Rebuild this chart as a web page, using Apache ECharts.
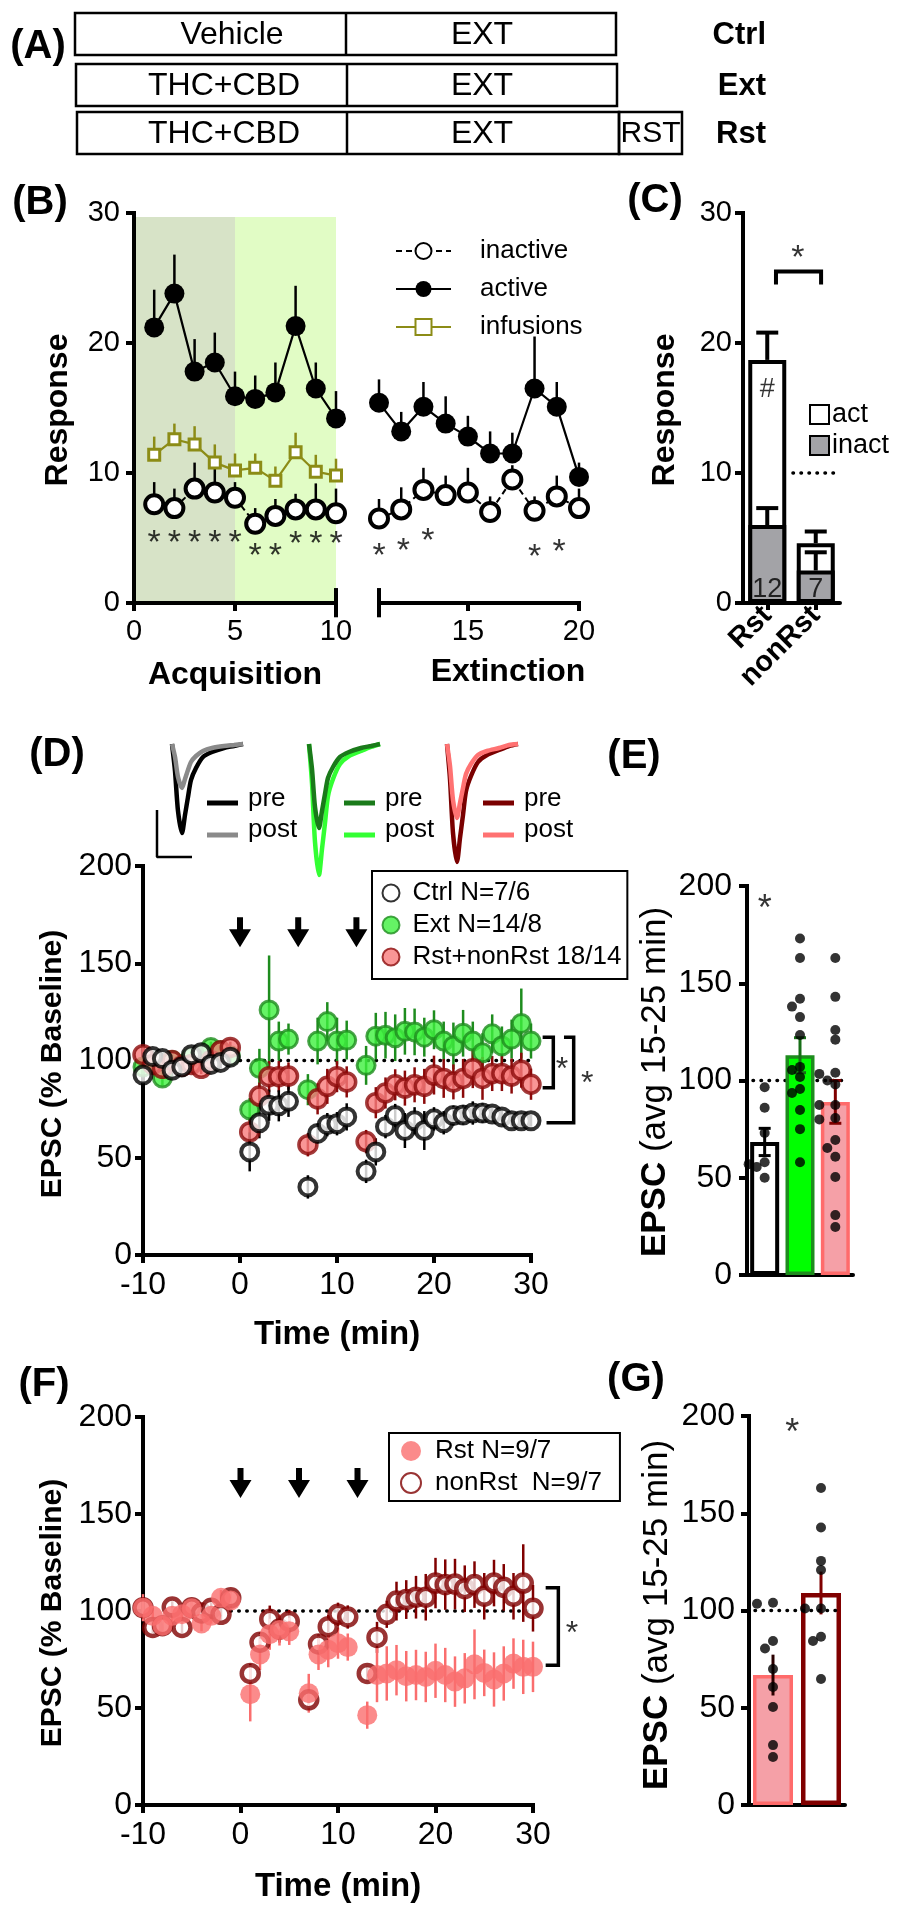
<!DOCTYPE html>
<html>
<head>
<meta charset="utf-8">
<script src="https://cdn.jsdelivr.net/npm/echarts@6.0.0/dist/echarts.min.js"></script>
<style>html,body{margin:0;padding:0;background:#fff;}#chart{width:900px;height:1920px;}</style>
</head>
<body>
<div id="chart"></div>
<script>
// ================= DATA =================
// Panel A (schematic)
const schemeRows = [
  {cells: ['Vehicle', 'EXT'], group: 'Ctrl'},
  {cells: ['THC+CBD', 'EXT'], group: 'Ext'},
  {cells: ['THC+CBD', 'EXT', 'RST'], group: 'Rst'}
];

// Panel B
const sessAcq = [1, 2, 3, 4, 5, 6, 7, 8, 9, 10];
const sessExt = [11, 12, 13, 14, 15, 16, 17, 18, 19, 20];
const activeAcq = [21.2, 23.8, 17.8, 18.5, 15.9, 15.7, 16.2, 21.3, 16.5, 14.2];
const activeAcqErr = [2.9, 3.0, 2.5, 2.3, 1.9, 1.8, 2.3, 3.1, 2.0, 2.1];
const inactiveAcq = [7.6, 7.3, 8.8, 8.5, 8.1, 6.1, 6.7, 7.2, 7.2, 6.9];
const inactiveAcqErr = [1.7, 1.5, 2.0, 2.0, 1.2, 1.2, 1.3, 1.2, 2.0, 1.9];
const infusionsAcq = [11.4, 12.6, 12.2, 10.8, 10.2, 10.4, 9.4, 11.6, 10.1, 9.8];
const infusionsAcqErr = [1.4, 1.2, 1.4, 1.4, 1.3, 1.1, 1.1, 1.5, 1.3, 1.3];
const activeExt = [15.4, 13.2, 15.1, 13.8, 12.8, 11.5, 11.5, 16.5, 15.1, 9.7];
const activeExtErr = [1.8, 1.5, 1.9, 2.1, 1.6, 1.7, 1.6, 4.0, 1.9, 1.1];
const inactiveExt = [6.5, 7.2, 8.7, 8.3, 8.5, 7.0, 9.5, 7.1, 8.2, 7.3];
const inactiveExtErr = [1.5, 1.7, 1.7, 1.5, 1.9, 1.2, 1.1, 1.1, 1.6, 1.5];
const starsAcq = [[1, 5.2], [2, 5.2], [3, 5.2], [4, 5.2], [5, 5.2], [6, 4.15], [7, 4.15], [8, 5.1], [9, 5.1], [10, 5.1]];
const starsExt = [[11, 4.2], [12.1, 4.6], [13.2, 5.3], [18, 4.1], [19.1, 4.5]];
const shadePhases = [[0, 5], [5, 10]];
const shadeTop = 29.7;

// Panel C
const cCats = ['Rst', 'nonRst'];
const cAct = [18.7, 4.6];
const cActErr = [2.1, 0.9];
const cInact = [6.0, 2.5];
const cInactErr = [1.3, 1.4];
const cN = ['12', '7'];

// Panel D / F time axis (min)
const timePts = [-10, -9, -8, -7, -6, -5, -4, -3, -2, -1, 1, 2, 3, 4, 5, 7, 8, 9, 10, 11,
  13, 14, 15, 16, 17, 18, 19, 20, 21, 22, 23, 24, 25, 26, 27, 28, 29, 30];
const arrowTimes = [0, 6, 12];
const arrowLevel = 166;

// Panel D
const ctrlD = [92.5, 102, 101, 95, 96.7, 103, 104, 98, 99, 101.7, 53, 68, 77, 76.7, 79, 35, 62.5, 67, 67.5, 71,
  43, 53, 66, 71.7, 64, 69, 64, 70, 68, 71.7, 72, 73, 73, 72.5, 71, 69, 69, 69];
const ctrlDErr = [4, 3, 3, 4, 3, 3, 3, 3, 3, 3, 10, 8, 8, 8, 8, 6, 5, 6, 6, 7,
  6, 7, 6, 6, 9, 7, 10, 6, 6, 5, 5, 6, 5, 4, 4, 4, 4, 3];
const extD = [96.7, 98, 91, 100, 98, 101.7, 103, 106.7, 105, 102.5, 74.7, 96, 126, 110, 111, 85, 110, 120, 110, 110.5,
  97.5, 112.5, 113, 111.7, 115, 114.7, 112, 115.8, 110, 107.5, 114, 110, 104, 113.7, 107.5, 111, 119, 110];
const extDErr = [3, 3, 4, 3, 3, 3, 3, 3, 3, 3, 6, 10, 28, 10, 8, 8, 12, 10, 12, 10,
  10, 12, 12, 12, 12, 12, 10, 10, 10, 12, 12, 10, 10, 10, 10, 10, 18, 9];
const rstD = [103, 98, 96, 100, 97, 98, 96, 100, 105, 106.7, 63.3, 81.7, 91.7, 91.7, 92, 56.7, 80.3, 86.7, 91.7, 89,
  58.3, 78.3, 83.3, 87.5, 85.8, 87.5, 86.7, 92.5, 90.8, 89, 90.8, 95.8, 90.8, 93.3, 93.3, 92, 95, 87.8];
const rstDErr = [4, 3, 3, 3, 3, 3, 3, 3, 3, 3, 7, 7, 8, 8, 7, 6, 8, 9, 8, 8,
  6, 8, 8, 8, 9, 9, 9, 10, 10, 9, 10, 10, 11, 9, 9, 9, 9, 8];
const bracketDInner = [[31.2, 112], [32.3, 112], [32.3, 86], [31.2, 86]];
const bracketDOuter = [[33.4, 112], [34.4, 112], [34.4, 68], [31.6, 68]];
const starsD = [[33.2, 98.7], [35.8, 91.5]];

// Panel D inset EPSC traces (time units, amplitude units)
const traceT = [0, 3, 6, 10, 13, 16, 19, 24, 31, 40, 52, 62, 71];
const traceCtrlPre = [0, -27, -67, -89, -71, -53, -36, -24, -13, -8, -4, -2, 0];
const traceCtrlPost = [0, -13, -33, -44, -35, -26, -18, -12, -7, -4, -2, -1, 0];
const traceExtPre = [0, -25, -63, -84, -67, -50, -34, -23, -13, -8, -4, -2, 0];
const traceExtPost = [0, -39, -98, -131, -105, -79, -52, -35, -20, -12, -7, -3, 0];
const traceRstPre = [0, -35, -89, -118, -94, -71, -47, -32, -18, -11, -6, -2, 0];
const traceRstPost = [0, -22, -56, -74, -59, -44, -30, -20, -11, -7, -4, -1, 0];
const scaleBar = [[-15, -66], [-15, -113], [20, -113]];

// Panel E
const eGroups = ['Ctrl', 'Ext', 'Rst+nonRst'];
const eMeans = [68.4, 113, 89];
const eErr = [7, 9, 11];
const eCtrlPts = [96.5, 86, 73, 58, 57, 55.5, 50];
const eExtPts = [173, 163, 142, 138, 132.6, 123.4, 107, 105.4, 101.8, 95.6, 93.6, 84.8, 75, 58];
const eRstPts = [163, 143, 126, 121, 104, 103.4, 100, 98, 87.4, 87.4, 80.7, 80, 69.4, 65.3, 60.8, 50.4, 30.8, 24.7];
const eStar = [[0, 191.5]];

// Panel F
const rstF = [101.7, 97.5, 92.4, 97.5, 98.3, 101.4, 93.6, 97.5, 106.8, 105.4, 57.1, 77.6, 88, 90.2, 89.5, 57.6, 77.6, 80, 83.4, 81.4,
  46.3, 67, 67.8, 69.5, 66.4, 67, 66, 69.2, 67, 63.6, 65.3, 72.5, 68.1, 64.7, 67.8, 72.9, 71.2, 71.2];
const rstFErr = [7, 4, 4, 4, 4, 4, 4, 4, 4, 4, 14, 8, 8, 8, 7, 10, 8, 9, 8, 7,
  7, 14, 14, 13, 13, 13, 13, 14, 14, 13, 13, 18, 12, 14, 14, 13, 14, 13];
const nonRstF = [101.7, 91.5, 92.4, 102, 91.5, 101.7, 99, 101.4, 98.3, 106.8, 67.8, 83.9, 95.8, 90.7, 94.6, 54.2, 83, 91.9, 98.3, 96.9,
  67.8, 86.4, 98.3, 105.1, 105.9, 107.1, 107.1, 114.4, 113.6, 113.9, 111.5, 113.6, 107.6, 114.4, 112.2, 107.6, 114.4, 101.4];
const nonRstFErr = [3, 3, 3, 3, 3, 3, 3, 3, 3, 3, 5, 5, 7, 7, 6, 4, 5, 6, 6, 6,
  4, 8, 7, 10, 10, 11, 12, 13, 13, 13, 12, 12, 12, 12, 12, 12, 20, 12];
const bracketF = [[31.3, 112], [32.6, 112], [32.6, 72], [31.3, 72]];
const starsF = [[34.0, 91.8]];

// Panel G
const gGroups = ['Rst', 'nonRst'];
const gMeans = [66.8, 109];
const gErr = [10.5, 11];
const gRstPts = [104, 103.5, 84.3, 80.5, 69.9, 60.7, 50.4, 30.8, 24.7];
const gNonRstPts = [163, 142.7, 125.5, 120.8, 101, 101, 86.5, 84.3, 64.8];
const gStar = [[0.4, 194.9]];

// Tick values
const bTicks2 = [11, 15, 20];
const bLabels2 = [15, 20];

// ================= STYLE / LAYOUT =================
const FF = '"Liberation Sans", Arial, Helvetica, sans-serif';
const AXW = 4;
const OLIVE = '#8c8c16';
const SHADE = ['#d7e3c7', '#e1fcc5'];
const GREEN_FILL = '#3ef03e', GREEN_EDGE = '#1e8c1e';
const RED_FILL = '#f77c7c', RED_EDGE = '#8b0a0a';
const PINK_BAR = '#f5a0a7', PINK_EDGE = '#ff6b6b';
const RST_F = '#fa6e6e', DARKRED = '#800000';

const L = {
  B1: {left: 134, top: 213, width: 202, height: 390},
  B2: {left: 379, top: 213, width: 200, height: 390},
  C:  {left: 743, top: 213, width: 97, height: 390},
  D:  {left: 143, top: 866, width: 388, height: 389},
  E:  {left: 747, top: 886, width: 106, height: 389},
  F:  {left: 143, top: 1417, width: 390, height: 388},
  G:  {left: 749, top: 1416, width: 96, height: 389},
  TK: {left: 157, top: 744, width: 86, height: 135},
  TG: {left: 309, top: 744, width: 71, height: 135},
  TR: {left: 447, top: 744, width: 71, height: 135}
};
const gridOrder = ['B1', 'B2', 'C', 'D', 'E', 'F', 'G', 'TK', 'TG', 'TR'];
const grids = gridOrder.map(k => Object.assign({containLabel: false, outerBoundsMode: 'none', show: false}, L[k]));

function vAxis(gi, min, max, interval, fs, margin, extra) {
  const a = {
    type: 'value', gridIndex: gi, min: min, max: max, interval: interval,
    axisLine: {show: true, onZero: false, lineStyle: {color: '#000', width: AXW, cap: 'square'}},
    axisTick: {show: true, inside: false, length: 8, lineStyle: {color: '#000', width: AXW}},
    axisLabel: {show: true, color: '#000', fontSize: fs, fontFamily: FF, margin: margin, showMinLabel: true, showMaxLabel: true},
    splitLine: {show: false}, splitArea: {show: false}
  };
  if (extra) {
    if (extra.tick) Object.assign(a.axisTick, extra.tick);
    if (extra.label) Object.assign(a.axisLabel, extra.label);
  }
  return a;
}
function hAxis(gi, min, max) {
  return {type: 'value', gridIndex: gi, min: min, max: max, show: false,
    axisLine: {show: false}, axisTick: {show: false}, axisLabel: {show: false}, splitLine: {show: false}};
}
function catAxis(gi, data, opts) {
  return Object.assign({
    type: 'category', gridIndex: gi, data: data,
    axisLine: {show: true, onZero: false, lineStyle: {color: '#000', width: AXW}},
    axisTick: {show: false},
    axisLabel: {show: false},
    splitLine: {show: false}
  }, opts || {});
}

const xAxes = [
  vAxis(0, 0, 10, 5, 29, 14),                                   // 0 B1
  vAxis(1, 11, 20, 5, 29, 14, {tick: {customValues: bTicks2}, label: {customValues: bLabels2}}), // 1 B2
  catAxis(2, cCats, {axisTick: {show: true, alignWithLabel: true, length: 7, lineStyle: {color: '#000', width: AXW}},
    axisLabel: {show: true, rotate: 45, interval: 0, color: '#000', fontSize: 29, fontWeight: 'bold', fontFamily: FF, margin: 8}}), // 2 C
  hAxis(2, -0.5, 1.5),                                          // 3 C overlay
  vAxis(3, -10, 30, 10, 32, 14),                                // 4 D
  catAxis(4, eGroups),                                          // 5 E
  hAxis(4, -0.5, 2.5),                                          // 6 E overlay
  vAxis(5, -10, 30, 10, 32, 14),                                // 7 F
  catAxis(6, gGroups),                                          // 8 G
  hAxis(6, -0.5, 1.5),                                          // 9 G overlay
  hAxis(7, -15, 71),                                            // 10 trace K
  hAxis(8, 0, 71),                                              // 11 trace G
  hAxis(9, 0, 71)                                               // 12 trace R
];
const yAxes = [
  vAxis(0, 0, 30, 10, 29, 14),   // 0 B1
  hAxis(1, 0, 30),               // 1 B2
  vAxis(2, 0, 30, 10, 29, 11),   // 2 C
  vAxis(3, 0, 200, 50, 32, 11),  // 3 D
  vAxis(4, 0, 200, 50, 32, 15),  // 4 E
  vAxis(5, 0, 200, 50, 32, 11),  // 5 F
  vAxis(6, 0, 200, 50, 32, 14),  // 6 G
  hAxis(7, -135, 0), hAxis(8, -135, 0), hAxis(9, -135, 0)
];

// ---------- helpers ----------
function errSeries(xi, yi, xs, ys, es, color, width, opts) {
  opts = opts || {};
  const up = opts.up !== false, down = opts.down !== false, cap = opts.cap || 0;
  return {
    type: 'custom', xAxisIndex: xi, yAxisIndex: yi, silent: true, z: opts.z == null ? 2 : opts.z,
    data: xs.map((x, i) => [x, ys[i], es[i]]),
    encode: {x: 0, y: 1},
    renderItem: function (params, api) {
      const x = api.value(0), y = api.value(1), e = api.value(2);
      const c = api.coord([x, y]);
      const t = api.coord([x, y + (up ? e : 0)]);
      const b = api.coord([x, y - (down ? e : 0)]);
      const st = {stroke: color, lineWidth: width};
      const ch = [{type: 'line', shape: {x1: c[0], y1: t[1], x2: c[0], y2: b[1]}, style: st}];
      if (cap) {
        if (up) ch.push({type: 'line', shape: {x1: c[0] - cap / 2, y1: t[1], x2: c[0] + cap / 2, y2: t[1]}, style: st});
        if (down) ch.push({type: 'line', shape: {x1: c[0] - cap / 2, y1: b[1], x2: c[0] + cap / 2, y2: b[1]}, style: st});
      }
      return {type: 'group', children: ch};
    }
  };
}
function textSer(xi, yi, pts, size, opt) {
  opt = opt || {};
  return {
    type: 'scatter', xAxisIndex: xi, yAxisIndex: yi, silent: true, clip: false, z: opt.z || 10,
    symbol: 'circle', symbolSize: 1, itemStyle: {color: 'rgba(0,0,0,0)'},
    data: pts.map(p => ({name: p[2], value: [p[0], p[1]]})),
    label: {show: true, position: 'inside', formatter: '{b}', color: opt.color || '#000', fontSize: size,
      fontFamily: FF, fontWeight: opt.bold ? 'bold' : 'normal', offset: opt.offset || [0, 0]},
    emphasis: {disabled: true}
  };
}
function star(pts) { return pts.map(p => [p[0], p[1], '*']); }
function lineSer(xi, yi, data, color, width, opt) {
  opt = opt || {};
  return {type: 'line', xAxisIndex: xi, yAxisIndex: yi, data: data, symbol: 'none', silent: true, clip: false,
    z: opt.z == null ? 5 : opt.z, smooth: opt.smooth || false,
    lineStyle: Object.assign({color: color, width: width}, opt.line || {}), emphasis: {disabled: true}};
}
// polyline drawn through the axes' scales (works outside the plotted range too)
function polySer(xi, yi, pts, color, width) {
  return {type: 'custom', xAxisIndex: xi, yAxisIndex: yi, silent: true, z: 5, clip: false,
    data: [[pts[0][0], pts[0][1]]], encode: {x: 0, y: 1},
    renderItem: function (params, api) {
      return {type: 'polyline', shape: {points: pts.map(p => api.coord(p))},
        style: {stroke: color, lineWidth: width, fill: null, lineJoin: 'miter'}};
    }};
}
// stimulation arrows: drawn at data coords via the axes' scales
function arrowSer(xi, yi, times, level) {
  return {type: 'custom', xAxisIndex: xi, yAxisIndex: yi, silent: true, z: 5, clip: false,
    data: times.map(t => [t, level]), encode: {x: 0, y: 1},
    renderItem: function (params, api) {
      const c = api.coord([api.value(0), api.value(1)]);
      const x = c[0], y = c[1];
      // shaft 6px wide, head 22px wide; total height 30px centred at (x,y)
      const pts = [[x - 3, y - 15], [x + 3, y - 15], [x + 3, y - 3], [x + 11, y - 3], [x, y + 15],
        [x - 11, y - 3], [x - 3, y - 3]];
      return {type: 'polygon', shape: {points: pts}, style: {fill: '#000'}};
    }};
}
function dotted(xi, yi, data, z) {
  return lineSer(xi, yi, data, '#000', 3.5, {z: z, line: {type: [0.5, 7.5], cap: 'round'}});
}
function zip(xs, ys) { return xs.map((x, i) => [x, ys[i]]); }
// simple beeswarm: horizontal offsets (in category units) so dots do not overlap much
function swarm(vals, pxPerUnit, catPx, dotPx) {
  const placed = [], out = [];
  vals.forEach(v => {
    const y = v * pxPerUnit;
    const cands = [0, -1, 1, -2, 2, -3, 3];
    for (let k = 0; k < cands.length; k++) {
      const off = cands[k] * dotPx * 0.8;
      if (placed.every(p => Math.hypot(p.y - y, p.off - off) >= dotPx * 0.85) || k === cands.length - 1) {
        placed.push({y: y, off: off}); out.push(off / catPx); break;
      }
    }
  });
  return out;
}
function dotSeries(xi, yi, catIdx, vals, grid, nCat) {
  const ppu = grid.height / 200, catPx = grid.width / nCat;
  const offs = swarm(vals, ppu, catPx, 10);
  return {type: 'scatter', xAxisIndex: xi, yAxisIndex: yi, symbol: 'circle', symbolSize: 10, silent: true, z: 4,
    itemStyle: {color: '#000'}, data: vals.map((v, i) => [catIdx + offs[i], v]), emphasis: {disabled: true}};
}

const starOff = [0, 7];

// ================= SERIES =================
const series = [];
// ---- Panel B ----
series.push({
  type: 'custom', xAxisIndex: 0, yAxisIndex: 0, z: 0, silent: true,
  data: shadePhases.map((p, i) => [p[0], p[1], shadeTop, i]), encode: {x: [0, 1], y: 2},
  renderItem: function (params, api) {
    const a = api.coord([api.value(0), api.value(2)]);
    const b = api.coord([api.value(1), 0]);
    return {type: 'rect', shape: {x: a[0], y: a[1], width: b[0] - a[0], height: b[1] - a[1]}, style: {fill: SHADE[api.value(3)]}};
  }
});
series.push(errSeries(0, 0, sessAcq, infusionsAcq, infusionsAcqErr, OLIVE, 2.5, {down: false, z: 2}));
series.push(errSeries(0, 0, sessAcq, inactiveAcq, inactiveAcqErr, '#000', 2.5, {down: false, z: 2}));
series.push(errSeries(0, 0, sessAcq, activeAcq, activeAcqErr, '#000', 2.5, {down: false, z: 2}));
series.push(errSeries(1, 1, sessExt, inactiveExt, inactiveExtErr, '#000', 2.5, {down: false, z: 2}));
series.push(errSeries(1, 1, sessExt, activeExt, activeExtErr, '#000', 2.5, {down: false, z: 2}));
const inactStyle = {symbol: 'circle', symbolSize: 18, itemStyle: {color: '#fff', borderColor: '#000', borderWidth: 4},
  lineStyle: {color: '#000', width: 2, type: [6, 4]}};
const actStyle = {symbol: 'circle', symbolSize: 20, itemStyle: {color: '#000', borderColor: '#000', borderWidth: 0},
  lineStyle: {color: '#000', width: 2.2}};
const infStyle = {symbol: 'rect', symbolSize: 11, itemStyle: {color: '#fff', borderColor: OLIVE, borderWidth: 3},
  lineStyle: {color: OLIVE, width: 2.2}};
function bLine(name, xi, yi, xs, ys, st, z) {
  return Object.assign({type: 'line', name: name, xAxisIndex: xi, yAxisIndex: yi, data: zip(xs, ys), z: z,
    showSymbol: true, showAllSymbol: true, silent: true, emphasis: {disabled: true}}, JSON.parse(JSON.stringify(st)));
}
series.push(bLine('infusions', 0, 0, sessAcq, infusionsAcq, infStyle, 3));
series.push(bLine('inactive', 0, 0, sessAcq, inactiveAcq, inactStyle, 4));
series.push(bLine('active', 0, 0, sessAcq, activeAcq, actStyle, 4));
series.push(bLine('inactive', 1, 1, sessExt, inactiveExt, inactStyle, 4));
series.push(bLine('active', 1, 1, sessExt, activeExt, actStyle, 4));
series.push(textSer(0, 0, star(starsAcq), 34, {offset: [0, 8]}));
series.push(textSer(1, 1, star(starsExt), 34, {offset: [0, 8]}));
// axis-break end marks
series.push(lineSer(0, 0, [[10, -1.1], [10, 1.15]], '#000', AXW, {z: 6}));
series.push(lineSer(1, 1, [[11, -1.1], [11, 1.15]], '#000', AXW, {z: 6}));

// ---- Panel C ----
series.push({type: 'bar', name: 'act', xAxisIndex: 2, yAxisIndex: 2, data: cAct, barWidth: 38, z: 2, silent: true,
  itemStyle: {color: '#fff', borderColor: '#000', borderWidth: 4}, emphasis: {disabled: true}});
series.push({type: 'bar', name: 'inact', xAxisIndex: 2, yAxisIndex: 2, data: cInact, barWidth: 38, barGap: '-100%', z: 2, silent: true,
  itemStyle: {color: '#a3a3a7', borderColor: '#000', borderWidth: 4}, emphasis: {disabled: true}});
series.push(errSeries(2, 2, [0, 1], cAct, cActErr, '#000', 4, {down: false, cap: 22, z: 3}));
series.push(errSeries(2, 2, [0, 1], cInact, cInactErr, '#000', 4, {down: false, cap: 22, z: 3}));
series.push(dotted(3, 2, [[0.53, 10], [1.44, 10]], 3));
series.push(polySer(3, 2, [[0.18, 24.5], [0.18, 25.5], [1.11, 25.5], [1.11, 24.5]], '#000', 4));
series.push(textSer(3, 2, star([[0.63, 27.1]]), 34, {offset: [0, 8]}));
series.push(textSer(3, 2, [[0, 16.4, '#'], [0, 1.0, cN[0]], [1, 1.0, cN[1]]], 27));

// ---- Panel D ----
series.push(dotted(4, 3, [[0, 100], [30, 100]], 1));
series.push(errSeries(4, 3, timePts, extD, extDErr, GREEN_EDGE, 2.5, {z: 2}));
series.push(errSeries(4, 3, timePts, rstD, rstDErr, RED_EDGE, 2.5, {z: 2}));
series.push(errSeries(4, 3, timePts, ctrlD, ctrlDErr, '#000', 2.5, {z: 2}));
series.push({type: 'scatter', name: 'Ext N=14/8', xAxisIndex: 4, yAxisIndex: 3, data: zip(timePts, extD), symbol: 'circle', symbolSize: 18, z: 3,
  silent: true, itemStyle: {color: GREEN_FILL, borderColor: GREEN_EDGE, borderWidth: 3}, emphasis: {disabled: true}});
series.push({type: 'scatter', name: 'Rst+nonRst 18/14', xAxisIndex: 4, yAxisIndex: 3, data: zip(timePts, rstD), symbol: 'circle', symbolSize: 18, z: 3,
  silent: true, itemStyle: {color: RED_FILL, borderColor: RED_EDGE, borderWidth: 3.5}, emphasis: {disabled: true}});
series.push({type: 'scatter', name: 'Ctrl N=7/6', xAxisIndex: 4, yAxisIndex: 3, data: zip(timePts, ctrlD), symbol: 'circle', symbolSize: 17, z: 3,
  silent: true, itemStyle: {color: '#fff', borderColor: '#000', borderWidth: 4}, emphasis: {disabled: true}});
series.push(arrowSer(4, 3, arrowTimes, arrowLevel));
series.push(polySer(4, 3, bracketDInner, '#000', 3.5));
series.push(polySer(4, 3, bracketDOuter, '#000', 3.5));
series.push(textSer(4, 3, star(starsD), 32, {offset: starOff}));

// inset traces
series.push(lineSer(10, 7, zip(traceT, traceCtrlPre), '#000', 4.5, {smooth: 0.25, z: 3}));
series.push(lineSer(10, 7, zip(traceT, traceCtrlPost), '#8a8a8a', 4.5, {smooth: 0.25, z: 4}));
series.push(lineSer(10, 7, scaleBar, '#000', 2.5, {z: 4}));
series.push(lineSer(11, 8, zip(traceT, traceExtPost), '#33ff33', 4.5, {smooth: 0.25, z: 3}));
series.push(lineSer(11, 8, zip(traceT, traceExtPre), '#1a7a1a', 4.5, {smooth: 0.25, z: 4}));
series.push(lineSer(12, 9, zip(traceT, traceRstPre), '#7a0000', 4.5, {smooth: 0.25, z: 3}));
series.push(lineSer(12, 9, zip(traceT, traceRstPost), '#ff7272', 4.5, {smooth: 0.25, z: 4}));

// ---- Panel E ----
series.push(dotted(6, 4, [[-0.33, 100], [2.28, 100]], 1));
series.push({type: 'bar', xAxisIndex: 5, yAxisIndex: 4, barWidth: 29, z: 2, silent: true, emphasis: {disabled: true},
  data: [
    {value: eMeans[0], itemStyle: {color: '#fff', borderColor: '#000', borderWidth: 4}},
    {value: eMeans[1], itemStyle: {color: '#00ff00', borderColor: GREEN_EDGE, borderWidth: 3.5}},
    {value: eMeans[2], itemStyle: {color: PINK_BAR, borderColor: PINK_EDGE, borderWidth: 3.5}}
  ]});
series.push(errSeries(5, 4, [0], [eMeans[0]], [eErr[0]], '#000', 3, {cap: 12, z: 3}));
series.push(errSeries(5, 4, [1], [eMeans[1]], [eErr[1]], '#176e17', 3, {cap: 12, z: 3}));
series.push(errSeries(5, 4, [2], [eMeans[2]], [eErr[2]], DARKRED, 3, {cap: 12, z: 3}));
series.push(dotSeries(6, 4, 0, eCtrlPts, L.E, 3));
series.push(dotSeries(6, 4, 1, eExtPts, L.E, 3));
series.push(dotSeries(6, 4, 2, eRstPts, L.E, 3));
series.push(textSer(6, 4, star(eStar), 36, {offset: [0, 8]}));

// ---- Panel F ----
series.push(dotted(7, 5, [[-1, 100], [30, 100]], 1));
series.push(errSeries(7, 5, timePts, nonRstF, nonRstFErr, DARKRED, 2.5, {z: 2}));
series.push(errSeries(7, 5, timePts, rstF, rstFErr, RST_F, 2.5, {z: 2}));
series.push({type: 'scatter', name: 'nonRst  N=9/7', xAxisIndex: 7, yAxisIndex: 5, data: zip(timePts, nonRstF), symbol: 'circle', symbolSize: 17, z: 3,
  silent: true, itemStyle: {color: '#fff', borderColor: DARKRED, borderWidth: 4.5}, emphasis: {disabled: true}});
series.push({type: 'scatter', name: 'Rst N=9/7', xAxisIndex: 7, yAxisIndex: 5, data: zip(timePts, rstF), symbol: 'circle', symbolSize: 20, z: 3,
  silent: true, itemStyle: {color: RST_F, borderColor: RST_F, borderWidth: 0}, emphasis: {disabled: true}});
series.push(arrowSer(7, 5, arrowTimes, arrowLevel));
series.push(polySer(7, 5, bracketF, '#000', 3.5));
series.push(textSer(7, 5, star(starsF), 32, {offset: starOff}));

// ---- Panel G ----
series.push({type: 'bar', xAxisIndex: 8, yAxisIndex: 6, barWidth: 40, z: 2, silent: true, emphasis: {disabled: true},
  data: [
    {value: gMeans[0], itemStyle: {color: PINK_BAR, borderColor: PINK_EDGE, borderWidth: 3.5}},
    {value: gMeans[1], itemStyle: {color: '#fff', borderColor: DARKRED, borderWidth: 4.5}}
  ]});
series.push(errSeries(8, 6, [0], [gMeans[0]], [gErr[0]], '#2a0000', 3, {cap: 0, z: 3}));
series.push(errSeries(8, 6, [1], [gMeans[1]], [gErr[1]], DARKRED, 3, {cap: 0, z: 3}));
series.push(dotSeries(9, 6, 0, gRstPts, L.G, 2));
series.push(dotSeries(9, 6, 1, gNonRstPts, L.G, 2));
series.push(dotted(9, 6, [[-0.375, 100], [1.4, 100]], 5));
series.push(textSer(9, 6, star(gStar), 36, {offset: [0, 8]}));

// ================= LEGENDS =================
const legends = [
  {orient: 'vertical', left: 395, top: 238, padding: 0, itemWidth: 55, itemHeight: 20, itemGap: 12, selectedMode: false,
    data: ['inactive', 'active', 'infusions'],
    textStyle: {fontSize: 26, fontFamily: FF, color: '#000', padding: [0, 0, 0, 24]}},
  {orient: 'vertical', left: 809, top: 401, padding: 0, itemWidth: 19, itemHeight: 19, itemGap: 4, selectedMode: false, icon: 'rect',
    data: ['act', 'inact'],
    textStyle: {fontSize: 27, lineHeight: 21, fontFamily: FF, color: '#000', padding: [0, 0, 0, -2]}},
  {orient: 'vertical', left: 372, top: 871, padding: [9, 6, 9, 9.5], itemWidth: 17, itemHeight: 17, itemGap: 6, selectedMode: false, icon: 'circle',
    borderColor: '#000', borderWidth: 2, borderRadius: 0,
    data: ['Ctrl N=7/6', 'Ext N=14/8', 'Rst+nonRst 18/14'],
    textStyle: {fontSize: 26, fontFamily: FF, color: '#000', padding: [0, 0, 0, 8]}},
  {orient: 'vertical', left: 389, top: 1433, padding: [5, 18, 5, 11], itemWidth: 20, itemHeight: 20, itemGap: 6, selectedMode: false, icon: 'circle',
    borderColor: '#000', borderWidth: 2, borderRadius: 0,
    data: ['Rst N=9/7', 'nonRst  N=9/7'],
    textStyle: {fontSize: 26, fontFamily: FF, color: '#000', padding: [0, 0, 0, 9]}}
];

// ================= GRAPHIC (panel A, titles, labels) =================
function T(x, y, text, size, opt) {
  opt = opt || {};
  return {type: 'text', x: x, y: y, rotation: opt.rot || 0, z: 100, silent: true,
    style: {text: text, fontSize: size, fontFamily: FF, fontWeight: opt.bold ? 'bold' : 'normal', fill: opt.color || '#000',
      align: opt.align || 'center', verticalAlign: 'middle', textAlign: opt.align || 'center', textVerticalAlign: 'middle',
      rich: opt.rich}};
}
function R(x, y, w, h) {
  return {type: 'rect', shape: {x: x, y: y, width: w, height: h}, z: 100, silent: true,
    style: {fill: 'none', stroke: '#000', lineWidth: 2.5}};
}
function Ln(x1, y1, x2, y2, color, w) {
  return {type: 'line', shape: {x1: x1, y1: y1, x2: x2, y2: y2}, z: 100, silent: true,
    style: {stroke: color, lineWidth: w}};
}
const graphics = [];
// Panel A
const rowGeo = [{x: 75, y: 13, w: 541, div: 346}, {x: 76, y: 64, w: 541, div: 347}, {x: 77, y: 112, w: 542, div: 347}];
const rowH = 42;
schemeRows.forEach((r, i) => {
  const g = rowGeo[i];
  graphics.push(R(g.x, g.y, g.w, rowH));
  graphics.push(Ln(g.div, g.y, g.div, g.y + rowH, '#000', 2.5));
  const cy = g.y + rowH / 2 + 1;
  graphics.push(T(r.cells[0] === 'Vehicle' ? 232 : 224, cy, r.cells[0], 32));
  graphics.push(T(482, cy, r.cells[1], 32));
  if (r.cells[2]) {
    graphics.push(R(g.x + g.w, g.y, 63, rowH));
    graphics.push(T(g.x + g.w + 31.5, cy, r.cells[2], 30));
  }
  graphics.push(T(766, cy, r.group, 31, {bold: true, align: 'right'}));
});
// panel letters
[['(A)', 38, 47], ['(B)', 40, 203], ['(C)', 655, 201], ['(D)', 57, 755], ['(E)', 634, 757], ['(F)', 44, 1385], ['(G)', 636, 1380]]
  .forEach(p => graphics.push(T(p[1], p[2], p[0], 40, {bold: true})));
// axis titles
graphics.push(T(58, 410, 'Response', 32, {bold: true, rot: Math.PI / 2}));
graphics.push(T(665, 410, 'Response', 32, {bold: true, rot: Math.PI / 2}));
graphics.push(T(235, 675, 'Acquisition', 32, {bold: true}));
graphics.push(T(508, 672, 'Extinction', 32, {bold: true}));
graphics.push(T(53, 1064, 'EPSC (% Baseline)', 30, {bold: true, rot: Math.PI / 2}));
graphics.push(T(337, 1335, 'Time (min)', 33, {bold: true}));
graphics.push(T(53, 1613, 'EPSC (% Baseline)', 30, {bold: true, rot: Math.PI / 2}));
graphics.push(T(338, 1887, 'Time (min)', 33, {bold: true}));
const richB = {b: {fontWeight: 'bold', fontSize: 35, fontFamily: FF, fill: '#000'}, n: {fontSize: 35, fontFamily: FF, fill: '#000'}};
graphics.push(T(655, 1082, '{b|EPSC}{n| (avg 15-25 min)}', 35, {rot: Math.PI / 2, rich: richB}));
graphics.push(T(657, 1615, '{b|EPSC}{n| (avg 15-25 min)}', 35, {rot: Math.PI / 2, rich: richB}));
// inset trace keys
const traceKeys = [
  {x: 207, pre: '#000', post: '#8a8a8a'},
  {x: 344, pre: '#1a7a1a', post: '#33ff33'},
  {x: 483, pre: '#7a0000', post: '#ff7272'}
];
traceKeys.forEach(k => {
  graphics.push(Ln(k.x, 803, k.x + 31, 803, k.pre, 5));
  graphics.push(Ln(k.x, 835, k.x + 31, 835, k.post, 5));
  graphics.push(T(k.x + 41, 799, 'pre', 26, {align: 'left'}));
  graphics.push(T(k.x + 41, 830, 'post', 26, {align: 'left'}));
});

// ================= RENDER =================
const chart = echarts.init(document.getElementById('chart'), null, {renderer: 'canvas', width: 900, height: 1920});
chart.setOption({
  animation: false,
  backgroundColor: '#fff',
  textStyle: {fontFamily: FF},
  grid: grids,
  xAxis: xAxes,
  yAxis: yAxes,
  legend: legends,
  tooltip: {show: false},
  series: series,
  graphic: graphics
});
</script>
</body>
</html>
